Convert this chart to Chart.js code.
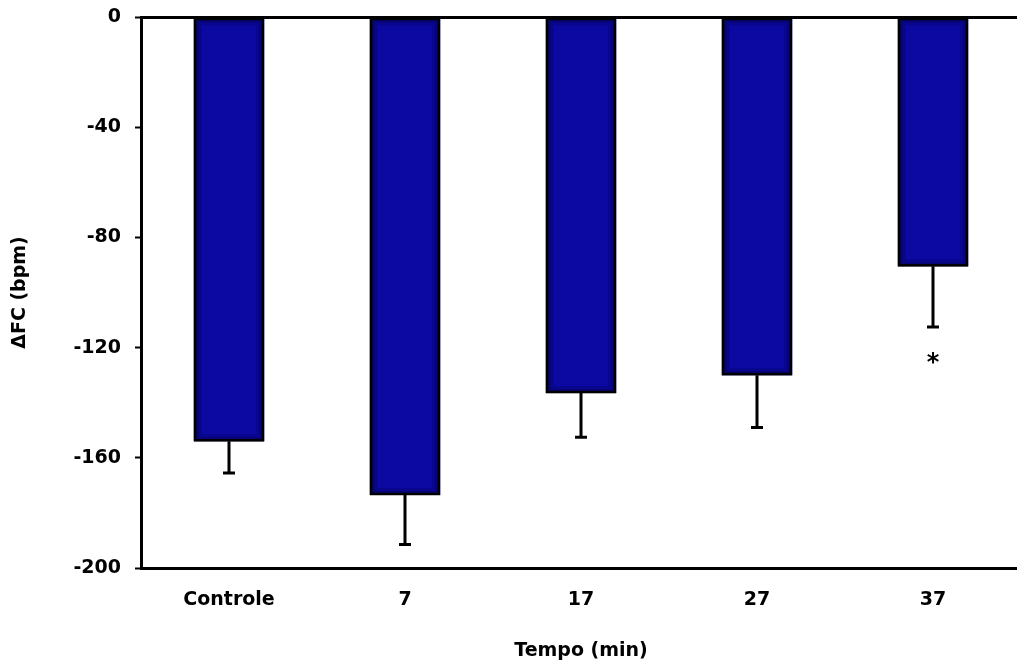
<!DOCTYPE html>
<html>
<head>
<meta charset="utf-8">
<script src="https://cdn.jsdelivr.net/npm/chart.js@4.4.0/dist/chart.umd.min.js"></script>
<style>
  html, body { margin: 0; padding: 0; background: #fff; overflow: hidden; }
  #wrap { width: 1021px; height: 666px; }
</style>
</head>
<body>
<div id="wrap"><canvas id="fcChart" width="1021" height="666"></canvas></div>
<script>
// données
const categories = ['Controle', '7', '17', '27', '37'];
const deltaFC = [-154, -173.5, -136.5, -130, -90.5];
const erroPadrao = [11.5, 18, 16, 19, 22];
const marcas = ['', '', '', '', '*'];
const yTicks = [0, -40, -80, -120, -160, -200];

Chart.defaults.font.family = '"DejaVu Sans", "Liberation Sans", sans-serif';
Chart.defaults.font.weight = 'bold';
Chart.defaults.font.size = 19;
Chart.defaults.color = '#000';

// barras de erro (só para baixo) + asterisco
const errorBars = {
  id: 'errorBars',
  afterDatasetsDraw(chart) {
    const ctx = chart.ctx;
    const yScale = chart.scales.y;
    const meta = chart.getDatasetMeta(0);
    meta.data.forEach((bar, i) => {
      const x = bar.x;
      const left = x - bar.width / 2;
      const top = Math.min(bar.y, bar.base);
      const h = Math.abs(bar.base - bar.y);
      // sombreado nas bordas da barra
      ctx.save();
      ctx.strokeStyle = 'rgba(2, 2, 60, 0.45)';
      ctx.lineWidth = 3;
      ctx.strokeRect(left + 3.5, top + 2.5, bar.width - 7, h - 5);
      ctx.strokeStyle = 'rgba(2, 2, 60, 0.2)';
      ctx.strokeRect(left + 6.5, top + 5.5, bar.width - 13, h - 11);
      ctx.strokeStyle = '#000';
      ctx.lineWidth = 2.5;
      ctx.strokeRect(left + 1.25, top + 0.5, bar.width - 2.5, h - 1.5);
      ctx.restore();

      const yStart = bar.y;
      const yEnd = yScale.getPixelForValue(deltaFC[i] - erroPadrao[i]);
      ctx.save();
      ctx.strokeStyle = '#000';
      ctx.lineWidth = 3;
      ctx.beginPath();
      ctx.moveTo(x, yStart);
      ctx.lineTo(x, yEnd);
      ctx.moveTo(x - 6, yEnd);
      ctx.lineTo(x + 6, yEnd);
      ctx.stroke();
      if (marcas[i]) {
        ctx.fillStyle = '#000';
        ctx.font = 'bold 24px "DejaVu Sans", sans-serif';
        ctx.textAlign = 'center';
        ctx.textBaseline = 'alphabetic';
        ctx.fillText(marcas[i], x, yEnd + 43);
      }
      ctx.restore();
    });
  }
};

new Chart(document.getElementById('fcChart').getContext('2d'), {
  type: 'bar',
  data: {
    labels: categories,
    datasets: [{
      data: deltaFC,
      backgroundColor: '#0c08a2',
      borderWidth: 0,
      categoryPercentage: 1,
      barPercentage: 0.4
    }]
  },
  options: {
    responsive: false,
    animation: false,
    layout: { padding: { top: 17, right: 0, bottom: 0, left: 0 } },
    plugins: { legend: { display: false }, tooltip: { enabled: false } },
    scales: {
      y: {
        min: -200,
        max: 0,
        afterFit: (s) => { s.width = 141; s.paddingTop = 0; s.paddingBottom = 0; },
        afterBuildTicks: (s) => { s.ticks = yTicks.map(v => ({ value: v })); },
        ticks: { padding: 14 },
        grid: {
          color: (c) => (c.tick && c.tick.value === 0 ? '#000' : 'rgba(0,0,0,0)'),
          lineWidth: 3,
          tickColor: '#000',
          tickLength: 6,
          tickWidth: 2
        },
        border: { color: '#000', width: 3 },
        title: { display: true, text: 'ΔFC (bpm)', padding: { top: 9, bottom: 9 } }
      },
      x: {
        afterFit: (s) => { s.height = 98; s.paddingLeft = 0; s.paddingRight = 0; },
        ticks: { padding: 21 },
        grid: { display: false, drawTicks: false },
        border: { color: '#000', width: 3 },
        title: { display: true, text: 'Tempo (min)', padding: { top: 4, bottom: 4 } }
      }
    }
  },
  plugins: [errorBars]
});
</script>
</body>
</html>
